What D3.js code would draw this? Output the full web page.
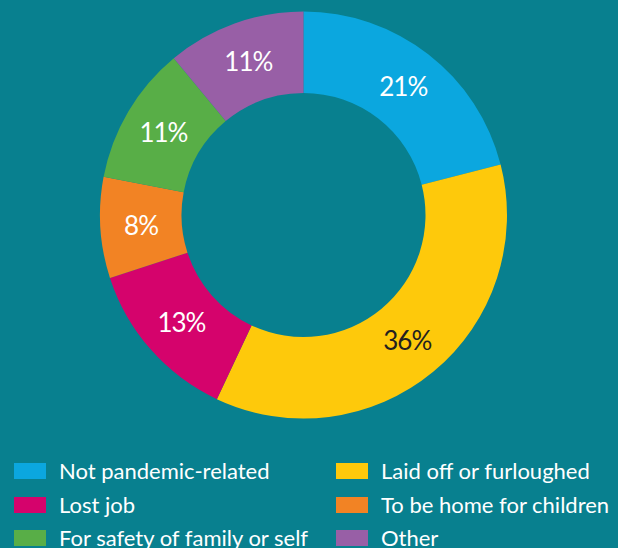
<!DOCTYPE html>
<html>
<head>
<meta charset="utf-8">
<script src="https://cdn.jsdelivr.net/npm/d3@7"></script>
<style>
  html, body { margin: 0; padding: 0; background: #08808f; }
  svg { display: block; }
</style>
</head>
<body>
<svg id="chart" width="618" height="548"></svg>
<script>
// Reasons for leaving work, share of respondents (%)
const categories = [
  "Not pandemic-related",
  "Laid off or furloughed",
  "Lost job",
  "To be home for children",
  "For safety of family or self",
  "Other"
];
const values = [21, 36, 13, 8, 11, 11];
const colors = ["#0ba7df", "#fec90b", "#d5036c", "#f28324", "#58ae47", "#985fa6"];
const labelColors = ["#ffffff", "#231f20", "#ffffff", "#ffffff", "#ffffff", "#ffffff"];

const width = 618, height = 548;
const cx = 303.5, cy = 215;
const outerR = 203.5, innerR = 122;
const font = "Lato, 'Open Sans', sans-serif";

const svg = d3.select("#chart");
svg.append("rect").attr("width", width).attr("height", height).attr("fill", "#08808f");

const data = categories.map((c, i) => ({ category: c, value: values[i], color: colors[i], labelColor: labelColors[i] }));

const pie = d3.pie().value(d => d.value).sort(null);
const arc = d3.arc().innerRadius(innerR).outerRadius(outerR);

const g = svg.append("g").attr("transform", `translate(${cx},${cy})`);
const arcs = pie(data);

g.selectAll("path.slice")
  .data(arcs)
  .join("path")
  .attr("class", "slice")
  .attr("d", arc)
  .attr("fill", d => d.data.color);

g.selectAll("text.pct")
  .data(arcs)
  .join("text")
  .attr("class", "pct")
  .attr("transform", d => `translate(${arc.centroid(d)})`)
  .attr("text-anchor", "middle")
  .attr("dy", "0.36em")
  .attr("font-family", font)
  .attr("font-size", 26)
  .attr("letter-spacing", -1)
  .attr("fill", d => d.data.labelColor)
  .text(d => d.data.value + "%");

// Legend: two columns, filled row by row
const legend = svg.append("g");
const colX = [14, 336];
const rowY = [463, 497, 530];
const items = legend.selectAll("g.item")
  .data(data)
  .join("g")
  .attr("class", "item")
  .attr("transform", (d, i) => `translate(${colX[i % 2]},${rowY[Math.floor(i / 2)]})`);

items.append("rect")
  .attr("width", 32)
  .attr("height", 16)
  .attr("fill", d => d.color);

items.append("text")
  .attr("x", 45)
  .attr("y", 8)
  .attr("dy", "0.36em")
  .attr("font-family", font)
  .attr("font-size", 22)
  .attr("fill", "#ffffff")
  .text(d => d.category);
</script>
</body>
</html>
